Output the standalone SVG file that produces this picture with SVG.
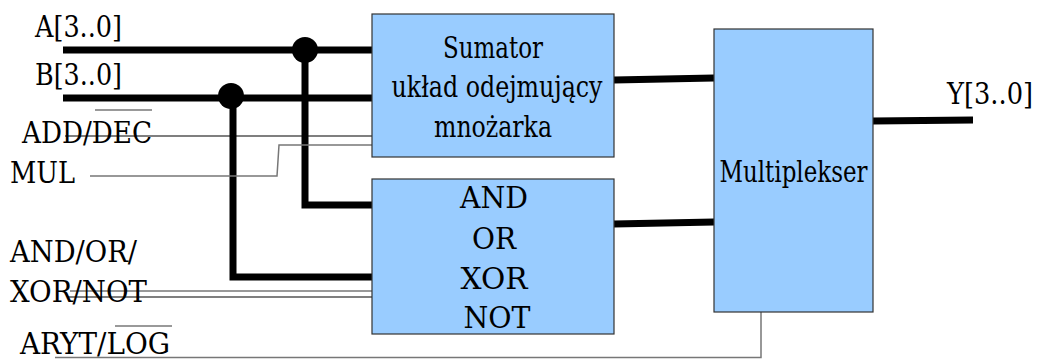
<svg xmlns="http://www.w3.org/2000/svg" width="1037" height="359" viewBox="0 0 1037 359">
<style>
.box{fill:#99ccff;stroke:#333;stroke-width:1.2}
.t{font-family:'DejaVu Serif Condensed','DejaVu Serif',serif;font-size:29px;fill:#000}
.c{text-anchor:middle}
.bus{stroke:#000;stroke-width:7;fill:none}
.sig{stroke:#000;stroke-width:1.2;fill:none}
.sigg{stroke:#777;stroke-width:1.5;fill:none}
.ov{stroke:#777;stroke-width:1.5}
</style>
<rect width="1037" height="359" fill="#fff"/>
<g id="connectors">
<line class="bus" x1="63" y1="50" x2="372" y2="50"/>
<line class="bus" x1="63" y1="98" x2="372" y2="98"/>
<polyline class="bus" points="305,50 305,205 372,205"/>
<polyline class="bus" points="233,98 233,277 372,277"/>
<circle cx="305" cy="50" r="13" fill="#000"/>
<circle cx="231" cy="96" r="13" fill="#000"/>
<line class="sig" x1="65" y1="136" x2="372" y2="136"/>
<polyline class="sigg" points="90,176 277,176 279,145 372,145"/>
<line class="sigg" x1="70" y1="291" x2="372" y2="291"/>
<line class="sig" x1="67" y1="297" x2="372" y2="297"/>
<polyline class="sigg" points="55,357.5 761,357.5 761,312"/>
<line class="bus" x1="614" y1="80" x2="714" y2="78"/>
<line class="bus" x1="614" y1="224" x2="714" y2="222"/>
<line class="bus" x1="873" y1="121" x2="973" y2="120"/>
</g>
<g id="sumator">
<rect class="box" x="372" y="14" width="242" height="143"/>
<text class="t c" x="493" y="58" textLength="100" lengthAdjust="spacingAndGlyphs">Sumator</text>
<text class="t c" x="497" y="97" textLength="211" lengthAdjust="spacingAndGlyphs">układ odejmujący</text>
<text class="t c" x="493" y="137" textLength="118" lengthAdjust="spacingAndGlyphs">mnożarka</text>
</g>
<g id="logic">
<rect class="box" x="372" y="179" width="242" height="155"/>
<text class="t c" x="494" y="208" textLength="68" lengthAdjust="spacingAndGlyphs">AND</text>
<text class="t c" x="494" y="249" textLength="44" lengthAdjust="spacingAndGlyphs">OR</text>
<text class="t c" x="494" y="289" textLength="67" lengthAdjust="spacingAndGlyphs">XOR</text>
<text class="t c" x="497" y="328" textLength="67" lengthAdjust="spacingAndGlyphs">NOT</text>
</g>
<g id="mux">
<rect class="box" x="714" y="29" width="159" height="283"/>
<text class="t c" x="793.5" y="182" textLength="148" lengthAdjust="spacingAndGlyphs">Multiplekser</text>
</g>
<g id="labels">
<text class="t" x="35" y="37" textLength="87" lengthAdjust="spacingAndGlyphs">A[3..0]</text>
<text class="t" x="35" y="85" textLength="87" lengthAdjust="spacingAndGlyphs">B[3..0]</text>
<text class="t" x="22" y="143" textLength="130" lengthAdjust="spacingAndGlyphs">ADD/DEC</text>
<line class="ov" x1="95" y1="110" x2="152" y2="110"/>
<text class="t" x="10" y="183" textLength="65" lengthAdjust="spacingAndGlyphs">MUL</text>
<text class="t" x="10" y="262" textLength="127" lengthAdjust="spacingAndGlyphs">AND/OR/</text>
<text class="t" x="10" y="302" textLength="137" lengthAdjust="spacingAndGlyphs">XOR/NOT</text>
<text class="t" x="20" y="354" textLength="150" lengthAdjust="spacingAndGlyphs">ARYT/LOG</text>
<line class="ov" x1="115" y1="326" x2="172" y2="326"/>
<text class="t" x="947" y="104" textLength="86" lengthAdjust="spacingAndGlyphs">Y[3..0]</text>
</g>
</svg>
